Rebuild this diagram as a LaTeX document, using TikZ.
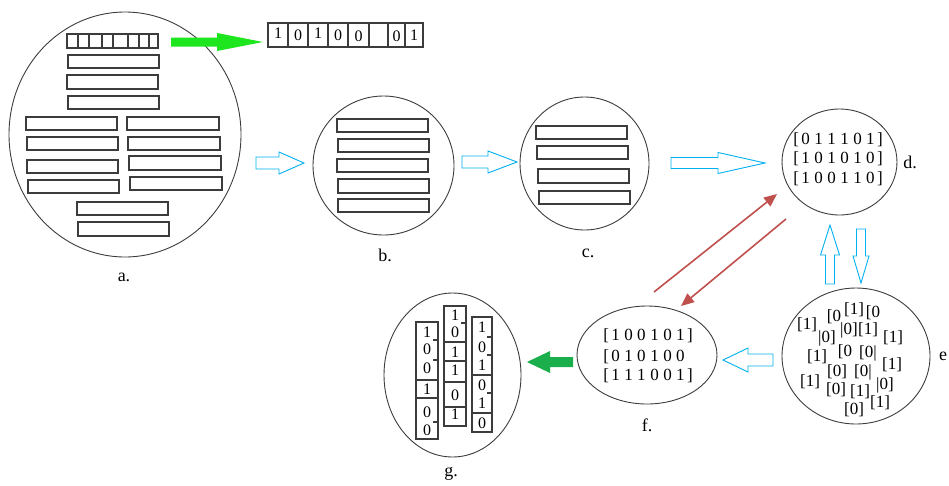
\documentclass[tikz,border=0pt]{standalone}
\usepackage{fontspec}
\setmainfont{Liberation Serif}
\usetikzlibrary{shapes.geometric,arrows.meta}
\definecolor{arrowblue}{RGB}{0,176,240}
\definecolor{limegreen}{RGB}{30,230,30}
\definecolor{darkgreen}{RGB}{26,175,75}
\definecolor{redarrow}{RGB}{192,80,77}
\definecolor{outline}{RGB}{60,60,60}
\tikzset{
 blob/.style={ellipse, draw=outline, line width=0.9pt, inner sep=0pt},
 bar/.style={draw=outline, line width=1.1pt},
 bluearrow/.style={draw=arrowblue, fill=white, line width=0.9pt},
 limearrow/.style={fill=limegreen, draw=none},
 greenarrow/.style={fill=darkgreen, draw=none},
 redline/.style={draw=redarrow, line width=1.6pt, -{Triangle[length=13pt,width=11pt]}},
 lbl/.style={font=\fontsize{18}{18}\selectfont, inner sep=0pt},
 bit/.style={font=\fontsize{16}{16}\selectfont, inner sep=0pt},
 mat/.style={font=\fontsize{17}{17}\selectfont, inner sep=0pt},
}
\newcommand\dg[1]{\makebox[13pt]{#1}}
\newcommand\harrow[7]{\draw[#7] (#1,{#4-#5}) -- (#2,{#4-#5}) -- (#2,{#4-#6}) -- (#3,#4) -- (#2,{#4+#6}) -- (#2,{#4+#5}) -- (#1,{#4+#5}) -- cycle;}
\newcommand\varrow[7]{\draw[#7] ({#4-#5},#1) -- ({#4-#5},#2) -- ({#4-#6},#2) -- (#4,#3) -- ({#4+#6},#2) -- ({#4+#5},#2) -- ({#4+#5},#1) -- cycle;}
\begin{document}
\begin{tikzpicture}[x=1pt,y=-1pt]
\useasboundingbox (0,0) rectangle (949,485);
% ---------- circles ----------
\node[blob, minimum width=232pt, minimum height=245pt] (A) at (125,134.5) {};
\node[blob, minimum width=141pt, minimum height=139pt] (B) at (383.5,165.5) {};
\node[blob, minimum width=129pt, minimum height=133pt] (C) at (584.5,163.5) {};
\node[blob, minimum width=115pt, minimum height=106pt] (D) at (839.5,162) {};
\node[blob, minimum width=148pt, minimum height=136pt] (E) at (856,356) {};
\node[blob, minimum width=140pt, minimum height=98pt] (F) at (647,355) {};
\node[blob, minimum width=137pt, minimum height=164pt] (G) at (452.5,375) {};
% ---------- labels ----------
\node[lbl] (la) at (124,277) {a.};
\node[lbl] (lb) at (385,255) {b.};
\node[lbl] (lc) at (588,253) {c.};
\node[lbl] (ld) at (910,162) {d.};
\node[lbl, anchor=west] (le) at (939,356) {e};
\node[lbl] (lf) at (647,425) {f.};
\node[lbl] (lg) at (451,474) {g.};
% ---------- bars in a ----------
\draw[bar] (67,34) rectangle (158,48);
\foreach \x in {78,89,102,113,128,139,149} \draw[bar] (\x,34) -- (\x,48);
\draw[bar] (68,55) rectangle (159,68);
\draw[bar] (67,75) rectangle (158,89);
\draw[bar] (68,96) rectangle (159,109);
\draw[bar] (26,117) rectangle (117,130);
\draw[bar] (27,137) rectangle (118,150);
\draw[bar] (27,160) rectangle (118,173);
\draw[bar] (28,180) rectangle (119,193);
\draw[bar] (127,117) rectangle (219,130);
\draw[bar] (128,137) rectangle (220,150);
\draw[bar] (129,156) rectangle (221,170);
\draw[bar] (130,177) rectangle (222,190);
\draw[bar] (77,202) rectangle (168,215);
\draw[bar] (78,222) rectangle (169,236);
% ---------- bit strip ----------
\draw[bar] (268,23) rectangle (423,47);
\foreach \x in {288,308,328,348,369,388,405} \draw[bar] (\x,23) -- (\x,47);
\node[bit] (s1) at (278,33) {1};
\node[bit] (s2) at (298,35) {0};
\node[bit] (s3) at (318,33) {1};
\node[bit] (s4) at (338,35) {0};
\node[bit] (s5) at (358.5,36) {0};
\node[bit] (s7) at (396.5,36) {0};
\node[bit] (s8) at (414,35) {1};
% ---------- bars in b ----------
\draw[bar] (337,119) rectangle (428,132);
\draw[bar] (338,139) rectangle (429,152);
\draw[bar] (337,159) rectangle (428,172);
\draw[bar] (338,179) rectangle (429,193);
\draw[bar] (338,199) rectangle (429,212);
% ---------- bars in c ----------
\draw[bar] (536,126) rectangle (627,139);
\draw[bar] (537,146) rectangle (628,159);
\draw[bar] (538,169) rectangle (629,183);
\draw[bar] (539,191) rectangle (630,204);
% ---------- matrix in d ----------
\node[mat] (d1) at (838,140) {[\dg0\dg1\dg1\dg1\dg0\dg1]};
\node[mat] (d2) at (838,159) {[\dg1\dg0\dg1\dg0\dg1\dg0]};
\node[mat] (d3) at (838,179) {[\dg1\dg0\dg0\dg1\dg1\dg0]};
% ---------- scattered in e ----------
\node[mat] (e1) at (834,317) {[0};
\node[mat] (e2) at (854,310) {[1]};
\node[mat] (e3) at (873,313) {[0};
\node[mat] (e4) at (807,325) {[1]};
\node[mat] (e5) at (827,338) {|0]};
\node[mat] (e6) at (849,330) {|0]};
\node[mat] (e7) at (868,330) {[1]};
\node[mat] (e8) at (893,338) {[1]};
\node[mat] (e9) at (817,357) {[1]};
\node[mat] (e10) at (845,352) {[0};
\node[mat] (e11) at (868,353) {[0|};
\node[mat] (e12) at (892,365) {[1]};
\node[mat] (e13) at (837,372) {[0]};
\node[mat] (e14) at (863,372) {[0|};
\node[mat] (e15) at (810,382) {[1]};
\node[mat] (e16) at (836,390) {[0]};
\node[mat] (e17) at (860,392) {[1]};
\node[mat] (e18) at (885,385) {|0]};
\node[mat] (e19) at (854,410) {[0]};
\node[mat] (e20) at (880,403) {[1]};
% ---------- matrix in f ----------
\node[mat] (f1) at (648,336) {[\dg1\dg0\dg0\dg1\dg0\dg1]};
\node[mat] (f2) at (648,357) {[\dg0\dg1\dg0\dg1\dg0\dg0\phantom{]}};
\node[mat] (f3) at (648,376) {[\dg1\dg1\dg1\dg0\dg0\dg1]};
% ---------- columns in g ----------
\draw[bar] (416,322) rectangle (438,439);
\foreach \y in {380,398} \draw[bar] (416,\y) -- (438,\y);
\foreach \y in {340,360,422} \draw[bar] (433,\y) -- (438,\y);
\foreach \t/\y in {1/332,0/349,0/368,1/389,0/412,0/430} \node[bit] at (427,\y) {\t};
\draw[bar] (444,306) rectangle (466,426);
\foreach \y in {342,361,382,407} \draw[bar] (444,\y) -- (466,\y);
\draw[bar] (461,323) -- (466,323);
\foreach \t/\y in {1/315,0/332,1/352,1/370,0/395,1/414} \node[bit] at (455,\y) {\t};
\draw[bar] (472,317) rectangle (492,432);
\foreach \y in {375,413} \draw[bar] (472,\y) -- (492,\y);
\foreach \y in {337,355,393} \draw[bar] (487,\y) -- (492,\y);
\foreach \t/\y in {1/327,0/347,1/365,0/385,1/403,0/423} \node[bit] at (482,\y) {\t};
% ---------- block arrows ----------
\harrow{171}{217}{263}{42}{4.5}{9}{limearrow}
\harrow{256}{279}{304}{163}{6}{11}{bluearrow}
\harrow{462}{488}{517}{162}{6}{11}{bluearrow}
\harrow{671}{718}{765}{163}{5.5}{10.5}{bluearrow}
\varrow{284}{255}{225}{830}{4.5}{9.5}{bluearrow}
\varrow{229}{256}{283}{861}{4.5}{8}{bluearrow}
\harrow{773}{748}{723}{360}{6}{12}{bluearrow}
\harrow{573}{550}{527}{362}{5}{11}{greenarrow}
% ---------- red arrows ----------
\coordinate (r1s) at (654,292);
\coordinate (r1e) at (777,194);
\coordinate (r2s) at (786,219);
\coordinate (r2e) at (681,306);
\draw[redline] (r1s) -- (r1e);
\draw[redline] (r2s) -- (r2e);
\end{tikzpicture}
\end{document}
